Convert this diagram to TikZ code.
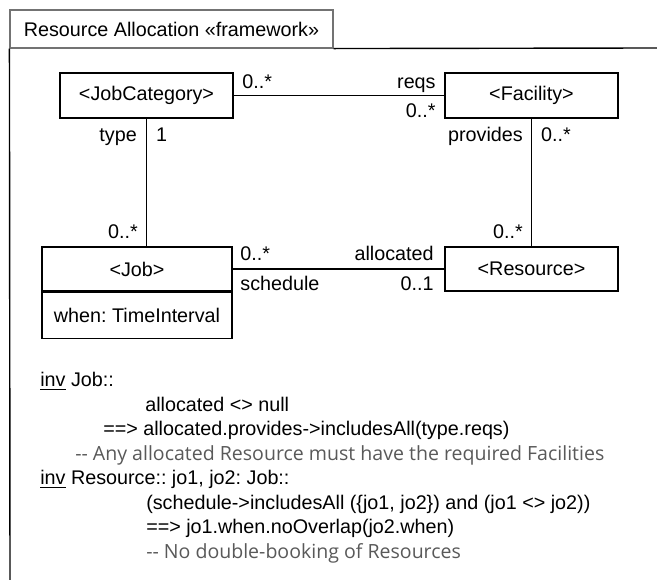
\documentclass[tikz,border=0pt]{standalone}
\usepackage{fontspec}
\setmainfont{Liberation Sans}
\newfontfamily\remfont{Open Sans}
\usetikzlibrary{positioning}
\frenchspacing

\begin{document}
\begin{tikzpicture}[
  every node/.style={font=\fontsize{14.05}{16}\selectfont},
  classbox/.style={draw, line width=1pt, minimum width=4.325cm, minimum height=1.125cm, inner sep=0pt},
  assoc/.style={line width=1pt},
  mult/.style={inner sep=0pt},
  ocl/.style={anchor=base west, inner sep=0pt},
  remark/.style={ocl, text=black!65, font=\remfont\fontsize{13.9}{16}\selectfont}
]

\useasboundingbox (0,0) rectangle (16.425,14.5);

% frame with its name tab
\node [draw=black!55, line width=0.8pt, minimum width=8.075cm, minimum height=0.95cm, inner sep=0pt]
  (tab) at (4.2875,13.775) {Resource Allocation «framework»};
\coordinate (framer) at (16.425,13.3);
\coordinate (frameb) at (0.25,0);
\draw [assoc] (tab.south east) -- (framer);
\draw [assoc] (tab.south west) -- (frameb);

% classes
\node [classbox] (jobcat) at (3.6625,12.1125) {<JobCategory>};
\node [classbox] (facility) at (13.2875,12.1125) {<Facility>};
\node [classbox, minimum width=4.75cm, minimum height=1.1cm] (job) at (3.425,7.775) {<Job>};
\node [classbox, minimum width=4.75cm, minimum height=1.15cm, below=0pt of job] (jobattr) {when: TimeInterval};
\node [classbox, minimum height=1.1cm] (resource) at (13.2875,7.775) {<Resource>};

% associations
\draw [assoc] (jobcat.east) -- (facility.west)
  node [mult, pos=0, anchor=base west, xshift=0.2cm, yshift=0.18cm] (m1) {0..*}
  node [mult, pos=1, anchor=base east, xshift=-0.2cm, yshift=0.18cm] (r1) {reqs}
  node [mult, pos=1, anchor=base east, xshift=-0.2cm, yshift=-0.54cm] (m2) {0..*};

\draw [assoc] (jobcat.south) -- (jobcat.south |- job.north)
  node [mult, pos=0, anchor=base east, xshift=-0.225cm, yshift=-0.575cm] (r2) {type}
  node [mult, pos=0, anchor=base west, xshift=0.225cm, yshift=-0.575cm] (m3) {1}
  node [mult, pos=1, anchor=base east, xshift=-0.2cm, yshift=0.2cm] (m4) {0..*};

\draw [assoc] (facility.south) -- (resource.north)
  node [mult, pos=0, anchor=base east, xshift=-0.2cm, yshift=-0.575cm] (r3) {provides}
  node [mult, pos=0, anchor=base west, xshift=0.225cm, yshift=-0.575cm] (m5) {0..*}
  node [mult, pos=1, anchor=base east, xshift=-0.2cm, yshift=0.2cm] (m6) {0..*};

\draw [assoc] (job.east) -- (resource.west)
  node [mult, pos=0, anchor=base west, xshift=0.175cm, yshift=0.2cm] (m7) {0..*}
  node [mult, pos=0, anchor=base west, xshift=0.175cm, yshift=-0.55cm] (r4) {schedule}
  node [mult, pos=1, anchor=base east, xshift=-0.25cm, yshift=0.2cm] (r5) {allocated}
  node [mult, pos=1, anchor=base east, xshift=-0.25cm, yshift=-0.55cm] (m8) {0..1};

% invariants
\node [ocl] (inv1) at (1.0,4.825) {\underline{inv} Job::};
\node [ocl] (pre1) at (3.625,4.2125) {allocated <> null};
\node [ocl] (imp1) at (2.575,3.6) {==> allocated.provides->includesAll(type.reqs)};
\node [remark] (rem1) at (1.875,2.9875) {-{}- Any allocated Resource must have the required Facilities};
\node [ocl] (inv2) at (1.0,2.375) {\underline{inv} Resource:: jo1, jo2: Job::};
\node [ocl] (pre2) at (3.65,1.7625) {(schedule->includesAll (\{jo1, jo2\}) and (jo1 <> jo2))};
\node [ocl] (imp2) at (3.65,1.15) {==> jo1.when.noOverlap(jo2.when)};
\node [remark] (rem2) at (3.65,0.5375) {-{}- No double-booking of Resources};

\end{tikzpicture}
\end{document}
